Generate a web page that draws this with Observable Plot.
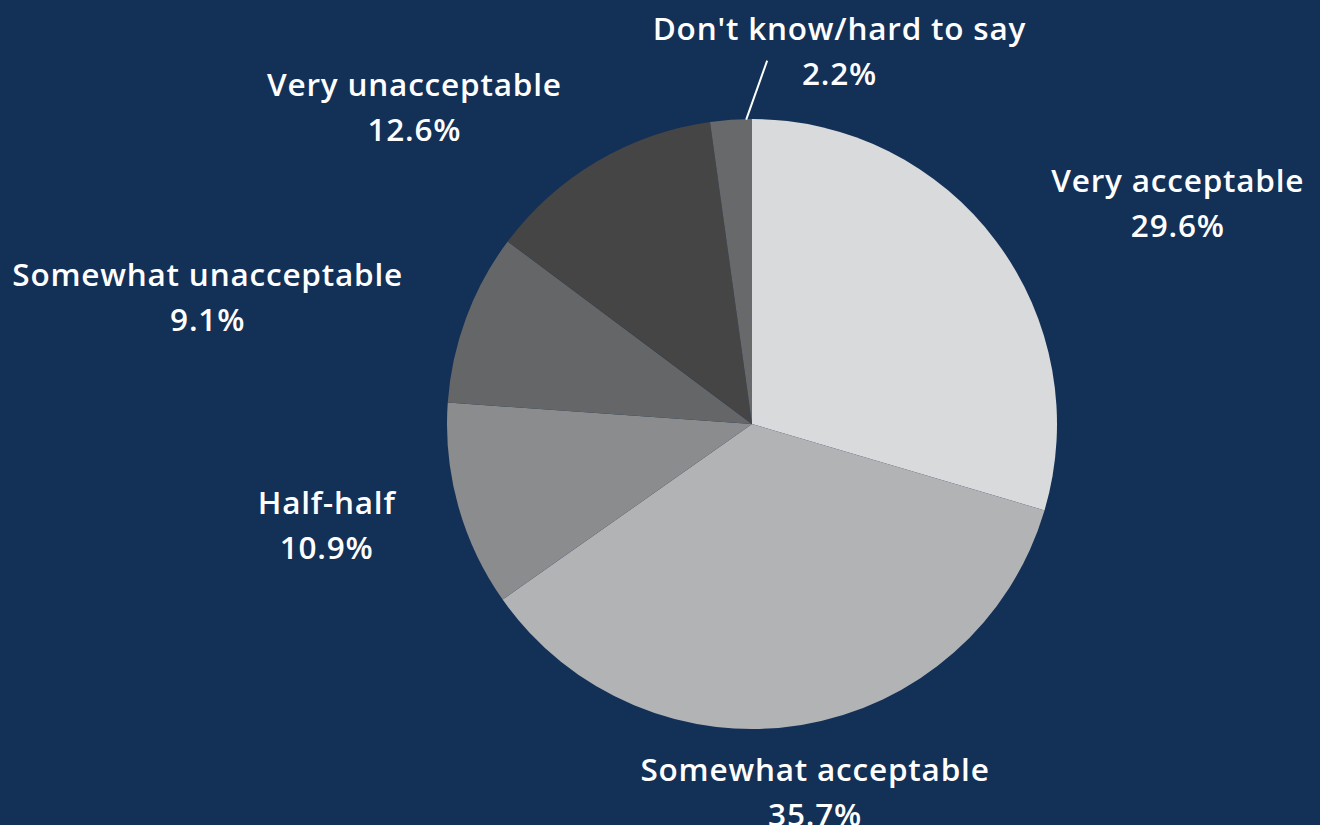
<!DOCTYPE html>
<html>
<head>
<meta charset="utf-8">
<script src="https://cdn.jsdelivr.net/npm/d3@7"></script>
<script src="https://cdn.jsdelivr.net/npm/@observablehq/plot@0.6"></script>
<style>
  html, body { margin: 0; padding: 0; background: #133057; }
  #chart svg { display: block; }
</style>
</head>
<body>
<div id="chart"></div>
<script>
// ---- data ----
const categories = ["Very acceptable", "Somewhat acceptable", "Half-half", "Somewhat unacceptable", "Very unacceptable", "Don't know/hard to say"];
const values = [29.6, 35.7, 10.9, 9.1, 12.6, 2.2];
const percentLabels = ["29.6%", "35.7%", "10.9%", "9.1%", "12.6%", "2.2%"];

// ---- style / layout ----
const colors = ["#d9dadc", "#b2b3b5", "#8b8c8e", "#656668", "#454545", "#68696b"];
const labelDx = [181, 13, -132, -259, -183, 108];
const labelDy = [-42, 64, 16, -24, -58, -72];
const W = 1320, H = 825, CX = 752, CY = 424, R = 305;

const data = categories.map((c, i) => ({category: c, value: values[i], pct: percentLabels[i], i}));
const arcs = d3.pie().sort(null).value(d => d.value)(data);
arcs.forEach(a => {
  const mid = (a.startAngle + a.endAngle) / 2;
  a.data.mid = mid;
  a.data.ex = Math.sin(mid);
  a.data.ey = Math.cos(mid);
});

const color = Plot.scale({color: {type: "ordinal", domain: categories, range: colors}});

// leader line for the small slice
const dk = arcs[5];
const leadAngle = dk.startAngle + 0.85 * (dk.endAngle - dk.startAngle);
const leader = [{x1: Math.sin(leadAngle), y1: Math.cos(leadAngle), x2: Math.sin(leadAngle) + 21 / R, y2: Math.cos(leadAngle) + 59 / R}];

const pieMark = (index, scales) => {
  const cx = scales.x(0), cy = scales.y(0), r = scales.x(1) - scales.x(0);
  const g = d3.create("svg:g").attr("transform", `translate(${cx},${cy})`);
  const arcGen = d3.arc().innerRadius(0).outerRadius(r);
  g.selectAll("path").data(arcs).join("path")
    .attr("d", arcGen)
    .attr("fill", d => color.apply(d.data.category));
  return g.node();
};

const plot = Plot.plot({
  width: W,
  height: H,
  margin: 0,
  style: {background: "#133057", color: "white"},
  x: {domain: [-CX / R, (W - CX) / R], axis: null},
  y: {domain: [-(H - CY) / R, CY / R], axis: null},
  marks: [
    pieMark,
    Plot.link(leader, {x1: "x1", y1: "y1", x2: "x2", y2: "y2", stroke: "white", strokeWidth: 2}),
    ...data.map(d => Plot.text([d], {
      x: "ex", y: "ey",
      text: r => r.category + "\n" + r.pct,
      dx: labelDx[d.i], dy: labelDy[d.i],
      fill: "white",
      fontSize: 31.5,
      fontWeight: 600,
      fontFamily: "'Open Sans', sans-serif",
      lineHeight: 1.42,
      textAnchor: "middle",
      lineAnchor: "middle"
    }))
  ]
});
plot.querySelectorAll("text").forEach(t => t.setAttribute("letter-spacing", "0.8"));
document.getElementById("chart").appendChild(plot);
</script>
</body>
</html>
